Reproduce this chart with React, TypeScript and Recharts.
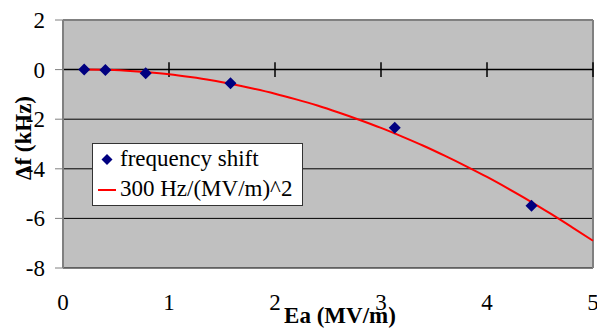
import React from "react";
import {
  ComposedChart,
  Scatter,
  Line,
  XAxis,
  YAxis,
  CartesianGrid,
  ReferenceLine,
} from "recharts";

// measured points: field (MV/m) vs frequency shift (kHz)
const FIELD = [0.2, 0.4, 0.78, 1.58, 3.13, 4.42];
const SHIFT = [0, -0.02, -0.15, -0.55, -2.34, -5.49];

// 300 Hz/(MV/m)^2 curve
const FIT_FIELD = [
  0.2, 0.4, 0.6, 0.8, 1.0, 1.2, 1.4, 1.6, 1.8, 2.0, 2.2, 2.4, 2.6, 2.8, 3.0,
  3.2, 3.4, 3.6, 3.8, 4.0, 4.2, 4.4, 4.6, 4.8, 5.0,
];
const FIT_SHIFT = [
  0, -0.01, -0.05, -0.11, -0.19, -0.3, -0.43, -0.59, -0.77, -0.97, -1.2,
  -1.45, -1.73, -2.03, -2.35, -2.7, -3.07, -3.47, -3.89, -4.33, -4.8, -5.29,
  -5.81, -6.35, -6.9,
];

const X_TICKS = [0, 1, 2, 3, 4, 5];
const Y_TICKS = [-8, -6, -4, -2, 0, 2];
const GRID_LINES = [-8, -6, -4, -2];

const FONT =
  "'Liberation Serif', 'Times New Roman', Times, 'Nimbus Roman', 'DejaVu Serif', serif";
const FS = 23;
const NAVY = "#000080";
const RED = "#ff0000";

const points = FIELD.map((e, i) => ({ e, shift: SHIFT[i] }));
const fit = FIT_FIELD.map((e, i) => ({ e, fit: FIT_SHIFT[i] }));

function Diamond(props: any) {
  const { cx, cy } = props;
  const r = 6;
  return (
    <polygon
      points={`${cx},${cy - r} ${cx + r},${cy} ${cx},${cy + r} ${cx - r},${cy}`}
      fill={NAVY}
    />
  );
}

function XTick({ x, y, payload }: any) {
  return (
    <text x={x} y={y + 42} textAnchor="middle" fontSize={FS} fill="#000">
      {payload.value}
    </text>
  );
}

function YTick({ x, y, payload }: any) {
  return (
    <text x={x} y={y + 8} textAnchor="end" fontSize={FS} fill="#000">
      {payload.value}
    </text>
  );
}

function ChartLegend() {
  return (
    <div
      style={{
        position: "absolute",
        left: 92,
        top: 143,
        width: 209,
        height: 61,
        background: "#fff",
        border: "1px solid #333",
        fontSize: FS,
        color: "#000",
        lineHeight: "30px",
      }}
    >
      <div style={{ display: "flex", alignItems: "center" }}>
        <svg width={27} height={30}>
          <polygon points="14,10 19.5,15.5 14,21 8.5,15.5" fill={NAVY} />
        </svg>
        <span style={{ whiteSpace: "nowrap" }}>frequency shift</span>
      </div>
      <div style={{ display: "flex", alignItems: "center" }}>
        <svg width={27} height={30}>
          <line x1={5} x2={23} y1={16} y2={16} stroke={RED} strokeWidth={2} />
        </svg>
        <span style={{ whiteSpace: "nowrap" }}>300 Hz/(MV/m)^2</span>
      </div>
    </div>
  );
}

export default function App() {
  return (
    <div
      style={{
        position: "absolute",
        left: 0,
        top: 0,
        width: 597,
        height: 333,
        background: "#fff",
        fontFamily: FONT,
        overflow: "hidden",
      }}
    >
      <ComposedChart
        width={597}
        height={333}
        margin={{ top: 20, right: 4, bottom: 0, left: 0 }}
      >
        <CartesianGrid
          vertical={false}
          horizontalValues={GRID_LINES}
          stroke="#000"
          fill="#c0c0c0"
          fillOpacity={1}
        />
        <XAxis
          type="number"
          dataKey="e"
          domain={[0, 5]}
          ticks={X_TICKS}
          height={65}
          axisLine={false}
          tickLine={false}
          tickSize={0}
          tickMargin={0}
          tick={<XTick />}
          label={{
            content: ({ viewBox }: any) => (
              <text
                x={viewBox.x + viewBox.width / 2 + 12}
                y={viewBox.y + 55}
                textAnchor="middle"
                fontSize={FS}
                fontWeight="bold"
                fill="#000"
              >
                Ea (MV/m)
              </text>
            ),
          }}
        />
        <YAxis
          type="number"
          domain={[-8, 2]}
          ticks={Y_TICKS}
          width={63}
          axisLine={{ stroke: "#808080", strokeWidth: 2 }}
          tickLine={{ stroke: "#808080" }}
          tickSize={8}
          tickMargin={10}
          tick={<YTick />}
          label={{
            content: ({ viewBox }: any) => {
              const cx = 23;
              const cy = viewBox.y + viewBox.height / 2 - 6;
              return (
                <text
                  x={cx}
                  y={cy}
                  transform={`rotate(-90 ${cx} ${cy})`}
                  textAnchor="middle"
                  dominantBaseline="central"
                  fontSize={FS}
                  fontWeight="bold"
                  fill="#000"
                >
                  Δf (kHz)
                </text>
              );
            },
          }}
        />
        <ReferenceLine y={2} stroke="#808080" strokeWidth={2} />
        <ReferenceLine x={5} stroke="#808080" strokeWidth={2} />
        <ReferenceLine y={0} stroke="#000" strokeWidth={1.5} />
        {X_TICKS.map((t) => (
          <ReferenceLine
            key={t}
            segment={[
              { x: t, y: -0.3 },
              { x: t, y: 0.3 },
            ]}
            stroke="#000"
            strokeWidth={1.5}
          />
        ))}
        <Line
          data={fit}
          dataKey="fit"
          type="monotone"
          stroke={RED}
          strokeWidth={2}
          dot={false}
          isAnimationActive={false}
        />
        <Scatter
          data={points}
          dataKey="shift"
          shape={<Diamond />}
          isAnimationActive={false}
        />
      </ComposedChart>
      <ChartLegend />
    </div>
  );
}
